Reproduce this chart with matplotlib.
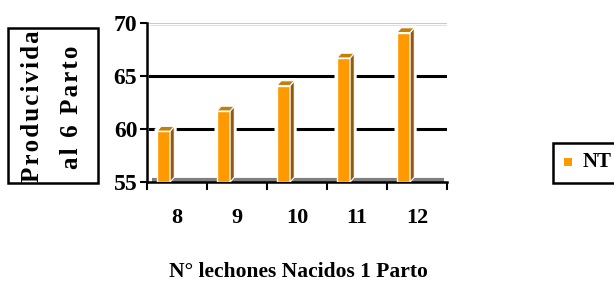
import numpy as np
import matplotlib.pyplot as plt
from matplotlib.patches import Polygon, Rectangle

categorias = ["8", "9", "10", "11", "12"]
productividad = [59.8, 61.7, 64.1, 66.7, 69.1]
serie = "NT"
y_ticks = [55, 60, 65, 70]

plt.rcParams['font.family'] = ['Liberation Serif', 'DejaVu Sans']
plt.rcParams['font.weight'] = 'bold'

fig = plt.figure(figsize=(6.14, 2.82), dpi=100)
ax = fig.add_axes([147 / 614, 1 - 182 / 282, 300 / 614, 159 / 282])

x = np.arange(len(categorias))
off, w = -0.225, 0.22
dx, dy = 0.07, 0.45

# gridlines (back wall)
for yv in y_ticks[1:3]:
    ax.plot([-0.45, 4.5], [yv, yv], color="k", lw=2.2, zorder=1)
ax.plot([-0.45, 4.5], [70, 70], color="#c0c0c0", lw=1.2, zorder=1)
ax.plot([-0.45, 4.5], [69.85, 69.85], color="#e0e0e0", lw=0.8, zorder=1)

for xi, v in zip(x + off, productividad):
    x0, x1 = xi - w / 2, xi + w / 2
    # white outline behind the box
    ax.add_patch(Polygon([[x0 - 0.04, 55], [x0 - 0.04, v + 0.2], [x0 + dx, v + dy + 0.2],
                          [x1 + dx + 0.04, v + dy + 0.2], [x1 + dx + 0.04, 55]],
                         closed=True, fc="white", ec="none", zorder=2))
# floor
ax.plot([-0.42, 4.45], [55.15, 55.15], color="#808080", lw=3, zorder=2.5, solid_capstyle="butt")

ax.bar(x + off, np.array(productividad) - 55, width=w, bottom=55, color="#ff9900",
       edgecolor="white", lw=1.0, zorder=3)
for xi, v in zip(x + off, productividad):
    x0, x1 = xi - w / 2, xi + w / 2
    ax.add_patch(Polygon([[x1, 55], [x1, v], [x1 + dx, v + dy], [x1 + dx, 55 + dy]],
                         closed=True, fc="#8f5a10", ec="white", lw=0.8, zorder=3))
    ax.add_patch(Polygon([[x0, v], [x0 + dx, v + dy], [x1 + dx, v + dy], [x1, v]],
                         closed=True, fc="#c47f08", ec="white", lw=0.8, zorder=3))

ax.set_xlim(-0.5, 4.5)
ax.set_ylim(55, 70)
ax.set_yticks(y_ticks)
ax.set_yticklabels([str(t) for t in y_ticks], fontsize=17, fontweight="bold")
ax.set_xticks(np.arange(-0.5, 5, 1))
ax.set_xticklabels([])
ax.set_xticks(x, minor=True)
ax.set_xticklabels(categorias, minor=True, fontsize=16, fontweight="bold")
ax.tick_params(axis="x", which="major", length=6, width=1.5, direction="out")
ax.tick_params(axis="x", which="minor", length=0, pad=19)
ax.tick_params(axis="y", length=5, width=1.5, direction="out", pad=2)
for s in ["top", "right"]:
    ax.spines[s].set_visible(False)
ax.spines["left"].set_linewidth(1.8)
ax.spines["bottom"].set_linewidth(1.8)

fig.text(298 / 614, 1 - 272 / 282, "N° lechones Nacidos 1 Parto", ha="center", va="center",
         fontsize=15.5, fontweight="bold")

# y label box
box = Rectangle((8 / 614, 1 - 183 / 282), 90 / 614, 155 / 282, transform=fig.transFigure,
                fc="white", ec="k", lw=1.8)
fig.add_artist(box)
clip = Rectangle((8 / 614, 1 - 183 / 282), 90 / 614, 155 / 282, transform=fig.transFigure,
                 fc="none", ec="none")
fig.add_artist(clip)
t1 = fig.text(33 / 614, 1 - 182 / 282, "\u200a".join("Producividad"), rotation=90, ha="center",
              va="bottom", fontsize=18, fontweight="bold")
t1.set_clip_path(clip)
fig.text(72 / 614, 1 - 107 / 282, "\u200a".join("al 6 Parto"), rotation=90, ha="center",
         va="center", fontsize=18, fontweight="bold")

# legend box (cut at the right edge)
fig.add_artist(Rectangle((553 / 614, 1 - 183 / 282), 80 / 614, 40 / 282, transform=fig.transFigure,
                         fc="white", ec="k", lw=1.8))
fig.add_artist(Rectangle((564 / 614, 1 - 166 / 282), 8 / 614, 8 / 282, transform=fig.transFigure,
                         fc="#ff9900", ec="none"))
fig.text(583 / 614, 1 - 162 / 282, serie, ha="left", va="center", fontsize=15, fontweight="bold")

fig.savefig("out.png", dpi=100)
